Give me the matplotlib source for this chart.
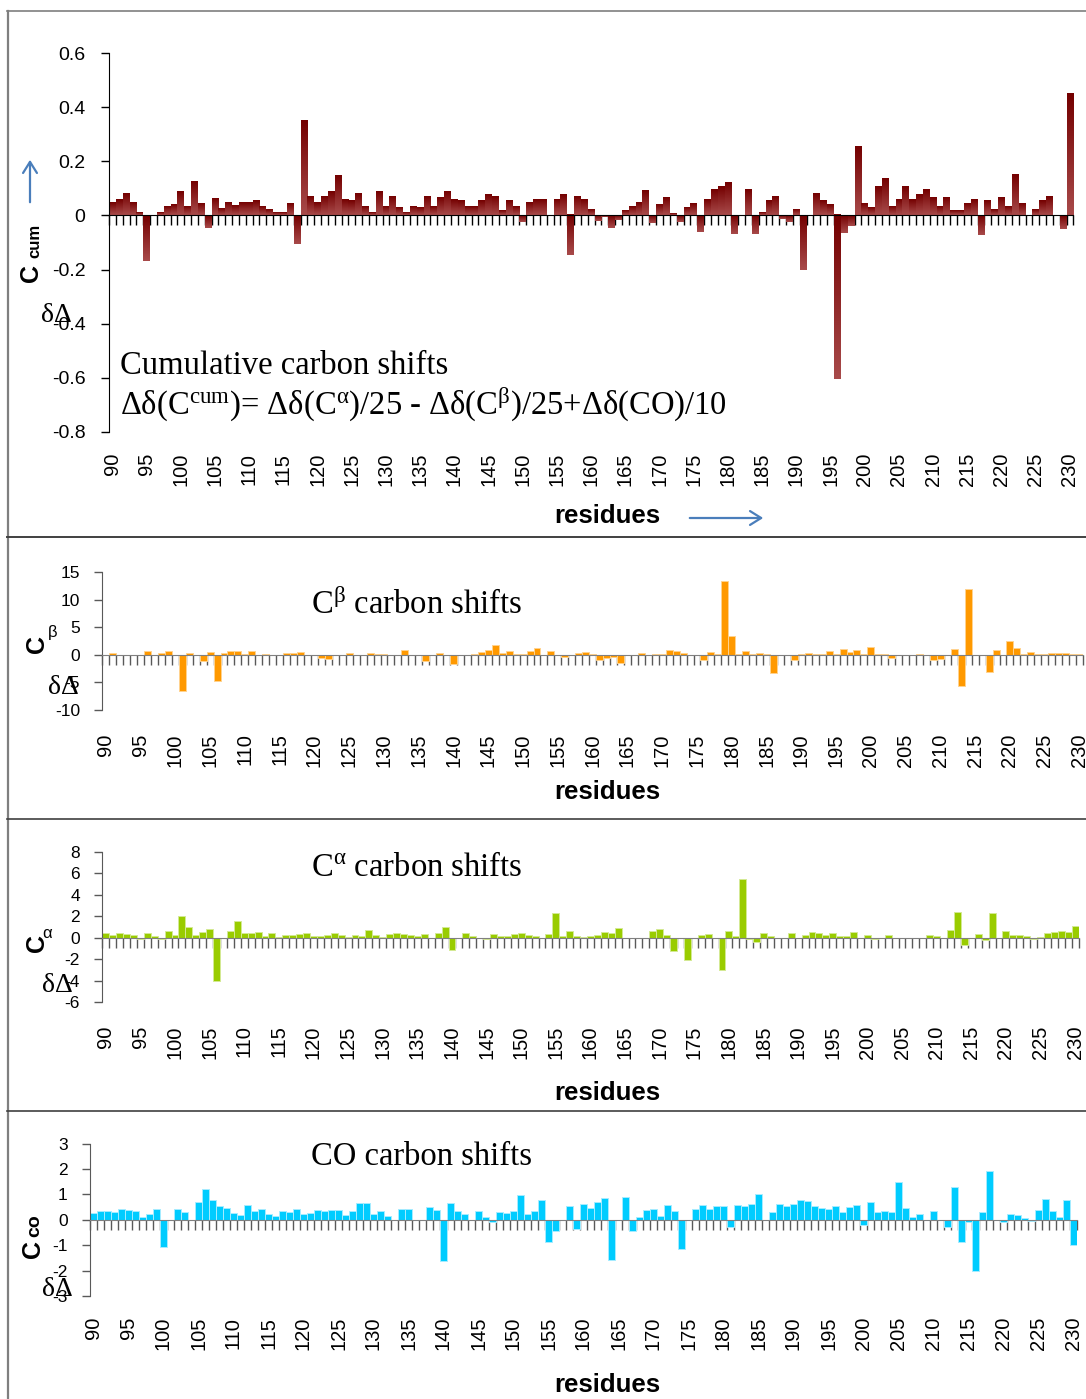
import numpy as np
import matplotlib
matplotlib.use('Agg')
import matplotlib.pyplot as plt
from matplotlib.colors import LinearSegmentedColormap
from matplotlib.lines import Line2D
from matplotlib.patches import FancyArrowPatch

plt.rcParams['font.family'] = ['Liberation Sans', 'DejaVu Sans']
plt.rcParams['axes.unicode_minus'] = False
plt.rcParams['mathtext.fontset'] = 'custom'
plt.rcParams['mathtext.rm'] = 'Liberation Serif'
plt.rcParams['mathtext.it'] = 'Liberation Serif:italic'

# residues 90..230, one value per residue
residues = np.arange(90, 231)
res_labels = list(range(90, 231, 5))

cum_shift = [
    0.048, 0.059, 0.081, 0.048, 0.011, -0.169, 0, 0.011, 0.03, 0.037,
    0.085, 0.033, 0.123, 0.041, -0.045, 0.06, 0.025, 0.045, 0.035, 0.048,
    0.045, 0.052, 0.03, 0.022, 0.008, 0.008, 0.042, -0.105, 0.348, 0.069,
    0.048, 0.069, 0.085, 0.147, 0.059, 0.052, 0.081, 0.033, 0.011, 0.085,
    0.03, 0.067, 0.026, 0.011, 0.03, 0.026, 0.067, 0.033, 0.063, 0.085,
    0.056, 0.052, 0.033, 0.03, 0.052, 0.074, 0.067, 0.015, 0.052, 0.033,
    -0.025, 0.048, 0.056, 0.059, 0, 0.056, 0.074, -0.148, 0.067, 0.059,
    0.022, -0.021, -0.006, -0.047, -0.016, 0.015, 0.03, 0.048, 0.089, -0.028,
    0.037, 0.063, 0.004, -0.025, 0.026, 0.044, -0.062, 0.059, 0.093, 0.107,
    0.119, -0.069, 0, 0.093, -0.069, 0.011, 0.052, 0.07, -0.014, -0.025,
    0.019, -0.2, 0, 0.078, 0.052, 0.037, -0.606, -0.065, -0.04, 0.252,
    0.041, 0.026, 0.107, 0.133, 0.03, 0.059, 0.107, 0.056, 0.074, 0.093,
    0.063, 0.03, 0.063, 0.015, 0.015, 0.041, 0.056, -0.073, 0.052, 0.022,
    0.063, 0.03, 0.148, 0.041, 0, 0.022, 0.052, 0.07, 0, -0.051,
    0.448]

cb_shift = [
    0, 0.3, 0, 0, 0, 0.05, 0.67, 0, 0.3, 0.6,
    0, -6.6, 0.3, 0, -1.2, 0.5, -4.8, 0.3, 0.7, 0.7,
    0.2, 0.7, 0, 0.2, 0, 0, 0.3, 0.35, 0.45, 0,
    0, -0.6, -0.8, 0, 0, 0.3, 0, -0.1, 0.35, 0.2,
    0.2, 0, 0, 0.8, 0, 0, -1.2, 0, 0.4, 0,
    -1.7, 0, 0, 0.2, 0.5, 0.8, 1.7, 0.3, 0.6, 0.2,
    0.1, 0.6, 1.3, 0, 0.6, 0, -0.4, 0, 0.4, 0.45,
    0.2, -1.0, -0.5, -0.4, -1.4, 0, 0, 0.3, 0, 0.1,
    0.1, 0.9, 0.7, 0.4, 0, 0, -0.9, 0.5, 0.2, 13.3,
    3.4, 0.1, 0.7, 0.1, 0.3, 0.2, -3.3, 0, 0, -1.0,
    0.1, 0.3, 0.1, 0.1, 0.6, 0.1, 1.1, 0.5, 0.8, 0.1,
    1.4, 0.2, 0.2, -0.5, 0, 0, 0, 0.2, 0, -1.0,
    -0.8, 0, 1.1, -5.7, 11.9, 0, 0, -3.2, 0.9, 0,
    2.5, 1.2, 0.2, 0.5, 0.1, 0.1, 0.3, 0.3, 0.3, 0.1, 0.2]

ca_shift = [
    0.47, 0.28, 0.44, 0.37, 0.22, -0.1, 0.4, 0.12, -0.1, 0.6,
    0.22, 2.0, 0.97, 0.22, 0.56, 0.84, -4.05, 0, 0.6, 1.56,
    0.44, 0.47, 0.56, 0.12, 0.47, 0.1, 0.22, 0.25, 0.31, 0.4,
    0.12, 0.12, 0.25, 0.47, 0.28, 0.06, 0.22, 0.19, 0.69, 0.22,
    0.1, 0.31, 0.4, 0.31, 0.22, 0.12, 0.34, 0, 0.47, 0.97,
    -1.18, 0, 0.47, 0.16, 0, -0.15, 0.31, 0.19, 0.16, 0.31,
    0.47, 0.25, 0.12, 0, 0.31, 2.27, 0.12, 0.6, 0.19, 0.06,
    0.12, 0.22, 0.56, 0.47, 0.93, 0, 0, -0.06, 0, 0.6,
    0.78, 0.28, -1.25, 0, -2.06, 0, 0.22, 0.34, 0, -3.0,
    0.6, 0.12, 5.5, -0.1, -0.37, 0.47, 0.19, 0, 0, 0.47,
    0, 0.22, 0.56, 0.4, 0.25, 0.4, 0.19, 0.19, 0.56, 0,
    0.22, -0.1, 0, 0.22, 0, 0, 0, 0, 0, 0.22,
    0.16, 0, 0.69, 2.4, -0.69, 0, 0.34, -0.22, 2.34, 0,
    0.62, 0.28, 0.28, 0.19, -0.1, 0.1, 0.47, 0.53, 0.6, 0.5, 1.09]

co_shift = [
    0.26, 0.34, 0.33, 0.3, 0.41, 0.37, 0.33, 0.09, 0.24, 0.42,
    -1.08, 0, 0.41, 0.32, 0, 0.68, 1.2, 0.76, 0.54, 0.45,
    0.26, 0.18, 0.58, 0.34, 0.43, 0.21, 0.16, 0.34, 0.3, 0.43,
    0.21, 0.26, 0.39, 0.36, 0.37, 0.39, 0.2, 0.36, 0.66, 0.66,
    0.21, 0.34, 0.14, 0, 0.41, 0.43, 0, 0, 0.49, 0.38,
    -1.62, 0.67, 0.36, 0.22, 0, 0.34, 0.09, -0.08, 0.3, 0.26,
    0.34, 0.96, 0.24, 0.36, 0.76, -0.87, -0.45, 0, 0.53, -0.38,
    0.62, 0.46, 0.68, 0.86, -1.57, 0, 0.91, -0.45, 0.11, 0.37,
    0.42, 0.14, 0.58, 0.36, -1.14, 0, 0.41, 0.57, 0.43, 0.54,
    0.53, -0.3, 0.58, 0.54, 0.61, 1.0, 0, 0.3, 0.61, 0.54,
    0.61, 0.76, 0.75, 0.53, 0.45, 0.41, 0.53, 0.3, 0.49, 0.57,
    -0.21, 0.68, 0.3, 0.34, 0.3, 1.47, 0.45, 0.11, 0.21, 0,
    0.36, 0, -0.29, 1.28, -0.86, -0.09, -2.0, 0.3, 1.92, 0,
    -0.07, 0.22, 0.17, 0.05, -0.05, 0.39, 0.8, 0.36, 0.11, 0.78, -1.01]

cum_ticks = [0.6, 0.4, 0.2, 0, -0.2, -0.4, -0.6, -0.8]
cum_ticklabels = ['0.6', '0.4', '0.2', '0', '-0.2', '-0.4', '-0.6', '-0.8']
cb_ticks = [15, 10, 5, 0, -5, -10]
ca_ticks = [8, 6, 4, 2, 0, -2, -4, -6]
co_ticks = [3, 2, 1, 0, -1, -2, -3]

W, H = 1086, 1399
fig = plt.figure(figsize=(W / 100, H / 100), dpi=100)


def box(left, right, top, bottom):
    return [left / W, 1 - bottom / H, (right - left) / W, (bottom - top) / H]


def fpt(x, y):
    return (x / W, 1 - y / H)


def shift_panel(rect, values, ylim, yticks, ylabels, color, edge,
                axis_col, zero_col, label_pad, ysize, ypad):
    ax = fig.add_axes(rect)
    slots = np.arange(len(values))
    bars = ax.bar(slots, values, width=1.0, align='edge', color=color,
                  edgecolor=edge, linewidth=0.7, zorder=2)
    ax.spines[['top', 'right']].set_visible(False)
    ax.spines['bottom'].set_position(('data', 0))
    ax.spines['bottom'].set_color(zero_col)
    ax.spines['bottom'].set_zorder(3)
    ax.spines['left'].set_color(axis_col)
    ax.set_xticks(np.arange(len(values) + 1))
    ax.tick_params(axis='x', length=7, width=1, color=axis_col,
                   labelbottom=False, direction='out')
    ax.set_yticks(yticks, ylabels)
    ax.tick_params(axis='y', length=6, width=1, color=axis_col, pad=ypad,
                   labelsize=ysize)
    sec = ax.secondary_xaxis(0.0)
    sec.set_xticks([r - 90 + 0.5 for r in res_labels],
                   [str(r) for r in res_labels])
    sec.tick_params(length=0, pad=label_pad, labelsize=14.5, labelrotation=90)
    sec.spines['bottom'].set_visible(False)
    ax.set_xlim(0, len(values))
    ax.set_ylim(*ylim)
    return ax, bars


# cumulative panel, bars shaded dark-to-light from top to bottom
ax1, bars1 = shift_panel(box(109, 1073.4, 53, 432), cum_shift, (-0.8, 0.6),
                         cum_ticks, cum_ticklabels, 'none', 'none',
                         'black', 'black', 15, 14, 11)
red_grad = LinearSegmentedColormap.from_list('cumred', ['#740000', '#a84a4a'])
grad = np.linspace(0, 1, 64).reshape(-1, 1)
for b in bars1:
    h = b.get_height()
    if h == 0:
        continue
    x0, y0 = b.get_xy()
    ax1.imshow(grad, cmap=red_grad, aspect='auto', origin='upper',
               extent=[x0, x0 + b.get_width(), min(y0, y0 + h), max(y0, y0 + h)],
               zorder=2, interpolation='bilinear')
ax1.set_xlim(0, len(cum_shift))
ax1.set_ylim(-0.8, 0.6)

shift_panel(box(102.3, 1083, 572, 710), cb_shift, (-10, 15), cb_ticks,
            [str(t) for t in cb_ticks], '#ff9900', '#ffd38f',
            '#595959', '#808080', 17, 12.5, 10)
shift_panel(box(102.3, 1078.6, 852, 1002), ca_shift, (-6, 8), ca_ticks,
            [str(t) for t in ca_ticks], '#99cc00', '#d4ea94',
            '#595959', '#808080', 17, 12.5, 10)
shift_panel(box(90, 1077, 1143.5, 1296), co_shift, (-3, 3), co_ticks,
            [str(t) for t in co_ticks], '#00ccff', '#a6ecff',
            '#595959', '#808080', 15, 12.5, 10)

# panel titles
serif = ['Liberation Serif', 'DejaVu Serif']
fig.text(*fpt(120, 374), 'Cumulative carbon shifts', family=serif, size=23.5,
         va='baseline')
fig.text(*fpt(120, 415),
         r'Δδ(C$^{\mathrm{cum}}$)= Δδ(C$^{\mathrm{\alpha}}$)/25 - '
         r'Δδ(C$^{\mathrm{\beta}}$)/25+Δδ(CO)/10',
         family=serif, size=23.5, va='baseline')
fig.text(*fpt(311, 614), r'C$^{\mathrm{\beta}}$ carbon shifts', family=serif,
         size=23.5, va='baseline')
fig.text(*fpt(311, 876), r'C$^{\mathrm{\alpha}}$ carbon shifts', family=serif,
         size=23.5, va='baseline')
fig.text(*fpt(311, 1165), 'CO carbon shifts', family=serif, size=23.5,
         va='baseline')

# x-axis titles
for y in (516, 792, 1093, 1385):
    fig.text(*fpt(607, y), 'residues', weight='bold', size=18.5, ha='center',
             va='center')

# y-axis labels
fig.text(*fpt(31, 273), 'C', weight='bold', size=18, rotation=90,
         ha='center', va='center')
fig.text(*fpt(35, 241), 'cum', weight='bold', size=12, rotation=90,
         ha='center', va='center')
fig.text(*fpt(37, 644), 'C', weight='bold', size=18, rotation=90,
         ha='center', va='center')
fig.text(*fpt(53, 632), 'β', size=12, ha='center', va='center')
fig.text(*fpt(37, 943), 'C', weight='bold', size=18, rotation=90,
         ha='center', va='center')
fig.text(*fpt(47, 933), 'α', size=12, ha='center', va='center')
fig.text(*fpt(33, 1249), 'C', weight='bold', size=18, rotation=90,
         ha='center', va='center')
fig.text(*fpt(35, 1226), 'co', weight='bold', size=14, rotation=90,
         ha='center', va='center')
for x, y in ((56, 316), (63, 688), (57, 986), (57, 1289)):
    fig.text(*fpt(x, y), 'δΔ', family=serif, size=20, ha='center',
             va='center')

# direction arrows
arrow_col = '#4a7ebb'
for a, b in (((30, 205), (30, 157)), ((687, 518), (766, 518))):
    fig.add_artist(FancyArrowPatch(fpt(*a), fpt(*b), transform=fig.transFigure,
                                   arrowstyle='->,head_length=8,head_width=5',
                                   color=arrow_col, lw=1.6))

# panel frame lines
frame = [((7.5, 10.5), (7.5, 1399), '#7f7f7f', 1.6),
         ((7, 10.5), (1086, 10.5), '#7f7f7f', 1.2),
         ((7, 537), (1086, 537), '#404040', 1.4),
         ((7, 818.5), (1086, 818.5), '#404040', 1.2),
         ((7, 1110.5), (1086, 1110.5), '#404040', 1.2)]
for p0, p1, c, lw in frame:
    fig.add_artist(Line2D([p0[0] / W, p1[0] / W], [1 - p0[1] / H, 1 - p1[1] / H],
                          transform=fig.transFigure, color=c, lw=lw))

fig.savefig('out.png', dpi=100)
